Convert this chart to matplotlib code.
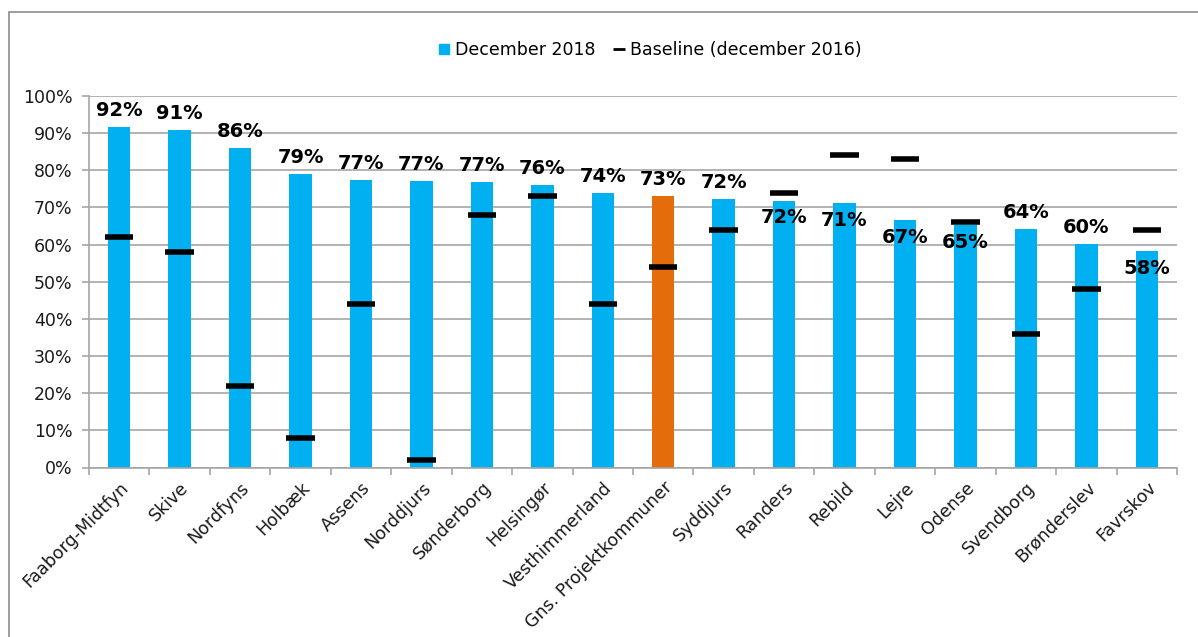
import matplotlib
matplotlib.use("Agg")
import matplotlib.pyplot as plt
from matplotlib.lines import Line2D
from matplotlib.patches import Rectangle
import numpy as np

categories = ["Faaborg-Midtfyn", "Skive", "Nordfyns", "Holbæk", "Assens", "Norddjurs",
              "Sønderborg", "Helsingør", "Vesthimmerland", "Gns. Projektkommuner", "Syddjurs",
              "Randers", "Rebild", "Lejre", "Odense", "Svendborg", "Brønderslev", "Favrskov"]
dec2018 = [91.6, 90.8, 85.9, 78.9, 77.3, 77.1, 76.9, 76.0, 74.0, 73.0, 72.2, 71.8, 71.2,
           66.6, 65.3, 64.2, 60.1, 58.2]
labels2018 = ["92%", "91%", "86%", "79%", "77%", "77%", "77%", "76%", "74%", "73%", "72%",
              "72%", "71%", "67%", "65%", "64%", "60%", "58%"]
baseline2016 = [62, 58, 22, 8, 44, 2, 68, 73, 44, 54, 64, 74, 84, 83, 66, 36, 48, 64]
highlight = "Gns. Projektkommuner"

blue = "#00B0F0"
orange = "#E46C0A"
grid_c = "#A6A6A6"

plt.rcParams['font.family'] = ['DejaVu Sans']
fig = plt.figure(figsize=(11.98, 6.37), dpi=100)
ax = fig.add_axes([89/1198, 1-467.5/637, (1177-89)/1198, (467.5-96)/637])

x = np.arange(len(categories))
colors = [orange if c == highlight else blue for c in categories]
ax.bar(x, dec2018, width=0.37, color=colors, zorder=2)
ax.errorbar(x, baseline2016, xerr=0.235, fmt='none', ecolor='black', elinewidth=4,
            capsize=0, zorder=3)

for xi, v, b, lab in zip(x, dec2018, baseline2016, labels2018):
    if b > v:
        ax.annotate(lab, (xi, v), xytext=(0, -5.5), textcoords='offset points',
                    ha='center', va='top', fontsize=14, fontweight='bold', zorder=4)
    else:
        ax.annotate(lab, (xi, v), xytext=(0, 5), textcoords='offset points',
                    ha='center', va='bottom', fontsize=14, fontweight='bold', zorder=4)

ax.set_xlim(-0.5, len(categories) - 0.5)
ax.set_ylim(0, 100)
ax.set_yticks(np.arange(0, 101, 10))
ax.set_yticklabels([f"{t}%" for t in range(0, 101, 10)], fontsize=12.5, color="#1a1a1a")
ax.yaxis.grid(True, color=grid_c, linewidth=1.2, zorder=0)
ax.set_axisbelow(True)

ax.set_xticks(x)
ax.set_xticklabels(categories, rotation=45, ha='right', rotation_mode='anchor',
                   fontsize=12.5, color="#1a1a1a")
ax.set_xticks(np.arange(-0.5, len(categories), 1), minor=True)
ax.tick_params(axis='x', which='major', length=0, pad=8)
ax.tick_params(axis='x', which='minor', length=5, color=grid_c, width=1.2)
ax.tick_params(axis='y', length=5, color=grid_c, width=1.2, pad=7)

for s in ['top', 'right']:
    ax.spines[s].set_visible(False)
for s in ['left', 'bottom']:
    ax.spines[s].set_color(grid_c)
    ax.spines[s].set_linewidth(1.2)

handles = [Line2D([], [], marker='s', linestyle='none', color=blue, markersize=7),
           Line2D([], [], marker='_', linestyle='none', color='black', markersize=8,
                  markeredgewidth=2)]
fig.legend(handles, ["December 2018", "Baseline (december 2016)"], loc='center',
           bbox_to_anchor=(650/1198, 1-50/637), ncol=2, frameon=False, fontsize=12.5,
           handletextpad=0.3, columnspacing=1.0, handlelength=0.7)

fig.patches.append(Rectangle((9/1198, -0.1), 1.2, 1 - 12/637 + 0.1, transform=fig.transFigure,
                             fill=False, edgecolor="#8C8C8C", linewidth=1.2))

fig.savefig("out.png", dpi=100)
